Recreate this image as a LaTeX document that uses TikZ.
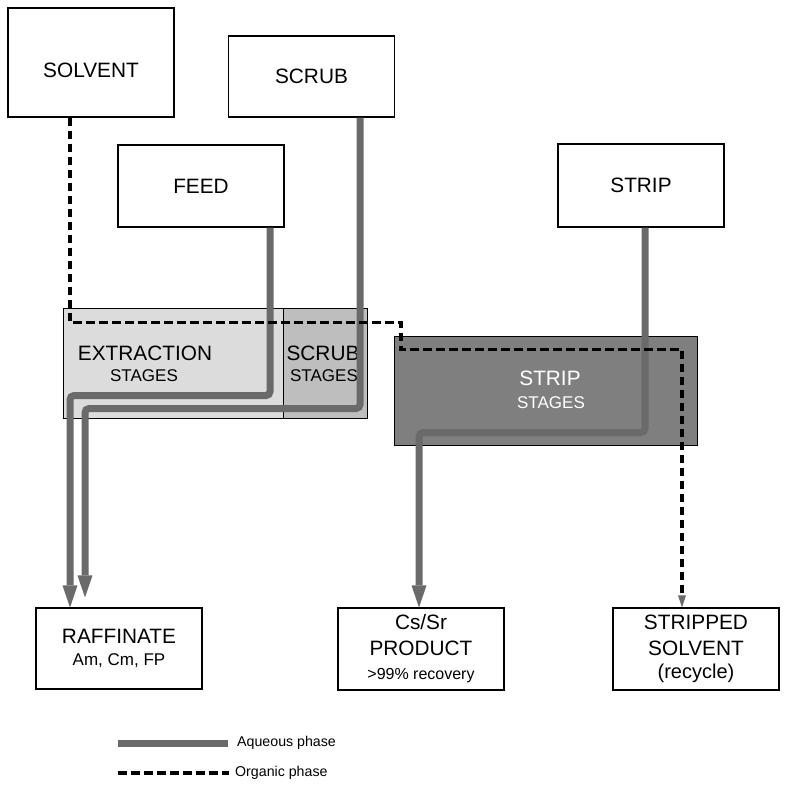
\documentclass[tikz,border=0pt]{standalone}
\usepackage{fontspec}
\setmainfont{Liberation Sans}
\usetikzlibrary{arrows.meta}
\definecolor{aqgray}{HTML}{6A6A6A}
\definecolor{extfill}{HTML}{DCDCDC}
\definecolor{scrubfill}{HTML}{BEBEBE}
\definecolor{stripfill}{HTML}{7F7F7F}
\newcommand{\bigtxt}{\fontsize{20.8}{26}\selectfont}
\newcommand{\midtxt}{\fontsize{17}{21}\selectfont}
\newcommand{\smalltxt}{\fontsize{16}{25}\selectfont}
\begin{document}
\begin{tikzpicture}[x=1pt,y=-1pt,
  box/.style={draw=black,line width=1.1pt,fill=white,inner sep=0pt,
    minimum width=166pt,align=center,font=\bigtxt},
  stagebox/.style={draw=black,line width=1pt,inner sep=0pt},
  aq/.style={draw=aqgray,line width=7pt,rounded corners=4pt,
    -{Triangle[length=22pt,width=15pt,line width=0pt,color=aqgray]}},
  orgline/.style={draw=black,line width=3.2pt,dash pattern=on 8.5pt off 4.5pt},
  org/.style={orgline,
    -{Triangle[length=12pt,width=8pt,line width=0pt,color=aqgray]}},
  lbl/.style={inner sep=0pt,anchor=base}]
\useasboundingbox (0,0) rectangle (785,788);

% feed boxes
\node[box,minimum height=109pt,text height=29pt,text depth=0pt] (solvent) at (91,62.5) {SOLVENT};
\node[box,minimum height=81pt] (scrub) at (311.5,76.5) {SCRUB};
\node[box,minimum height=82pt] (feed) at (201,186) {FEED};
\node[box,minimum height=83pt] (strip) at (641,185.5) {STRIP};

% contactor stages
\node[stagebox,fill=extfill,minimum width=220pt,minimum height=110pt] (ext) at (173,363) {};
\node[stagebox,fill=scrubfill,minimum width=84pt,minimum height=110pt] (scrubst) at (325,363) {};
\node[stagebox,fill=stripfill,minimum width=303pt,minimum height=109pt] (stripst) at (545.5,390.5) {};

\node[lbl,font=\bigtxt] (extname) at (145,360) {EXTRACTION};
\node[lbl,font=\midtxt] (extsub) at (144,381) {STAGES};
\node[lbl,font=\bigtxt] (scrubname) at (323,360) {SCRUB};
\node[lbl,font=\midtxt] (scrubsub) at (324,381) {STAGES};
\node[lbl,font=\bigtxt,text=white] (stripname) at (550,385) {STRIP};
\node[lbl,font=\midtxt,text=white] (stripsub) at (551,408) {STAGES};

% product boxes
\node[box,minimum height=81pt] (raff) at (119,648.5)
  {RAFFINATE\\[-4pt]{\fontsize{17}{20}\selectfont Am, Cm, FP}};
\node[box,minimum height=82pt] (prod) at (421,649)
  {Cs/Sr\\PRODUCT\\[-2pt]{\smalltxt >99\% recovery}};
\node[box,minimum height=82pt] (spent) at (696,649)
  {STRIPPED\\SOLVENT\\[-3pt]{\fontsize{20}{24}\selectfont (recycle)}};

% aqueous streams
\draw[aq] ([xshift=69pt]feed.south) -- ++(0,168) -| ([xshift=-49pt]raff.north);
\draw[aq] ([xshift=48.5pt]scrub.south) -- ++(0,291) -| ([xshift=-34pt,yshift=10pt]raff.north);
\draw[aq] ([xshift=4pt]strip.south) -- ++(0,205) -| ([xshift=-2pt]prod.north);

% organic stream
\draw[org] ([xshift=-21pt]solvent.south) -- ++(0,205) -- ++(331,0) -- ++(0,27)
  -| ([xshift=-14pt]spent.north);

% legend
\coordinate (aqa) at (118,743);
\coordinate (aqb) at (228,743);
\coordinate (orga) at (118,773);
\coordinate (orgb) at (229,773);
\draw[draw=aqgray,line width=7pt] (aqa) -- (aqb);
\draw[orgline] (orga) -- (orgb);
\node[anchor=west,inner sep=0pt,font=\fontsize{14.2}{17}\selectfont] (aqtext) at (237,743) {Aqueous phase};
\node[anchor=west,inner sep=0pt,font=\fontsize{14.2}{17}\selectfont] (orgtext) at (235,773) {Organic phase};
\end{tikzpicture}
\end{document}
